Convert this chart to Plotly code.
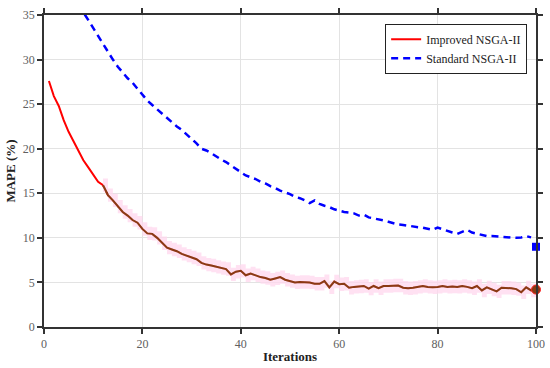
import plotly.graph_objects as go

iterations = list(range(1, 101))

improved = [27.6, 25.9, 24.8, 23.2, 21.9, 20.8, 19.8, 18.7, 17.9, 17.1,
            16.3, 15.9, 14.8, 14.2, 13.5, 12.9, 12.5, 12.0, 11.7, 11.0,
            10.5, 10.45, 10.0, 9.4, 8.9, 8.7, 8.5, 8.2, 8.0, 7.8,
            7.6, 7.2, 7.0, 6.9, 6.75, 6.6, 6.5, 5.9, 6.2, 6.3,
            5.8, 6.0, 5.8, 5.6, 5.5, 5.3, 5.45, 5.6, 5.3, 5.15,
            5.0, 5.05, 5.05, 5.0, 4.85, 4.85, 5.15, 4.45, 5.1, 4.8,
            4.85, 4.4, 4.5, 4.55, 4.6, 4.3, 4.6, 4.35, 4.6, 4.6,
            4.65, 4.65, 4.4, 4.35, 4.4, 4.5, 4.6, 4.5, 4.45, 4.5,
            4.6, 4.5, 4.55, 4.5, 4.6, 4.5, 4.35, 4.6, 4.1, 4.45,
            4.2, 4.0, 4.4, 4.4, 4.35, 4.25, 3.9, 4.45, 4.1, 4.2]

standard_iter = list(range(7, 100))
standard = [36.2, 35.3, 34.5, 33.5, 32.6, 31.7, 30.8, 30.0, 29.2, 28.5,
            27.9, 27.4, 26.7, 26.0, 25.4, 24.9, 24.4, 24.0, 23.5, 23.0,
            22.5, 22.1, 21.6, 21.2, 20.6, 20.0, 19.8, 19.5, 19.1, 18.8,
            18.5, 18.1, 17.7, 17.4, 17.0, 16.8, 16.6, 16.3, 16.1, 15.8,
            15.6, 15.3, 15.1, 14.9, 14.6, 14.45, 14.2, 13.9, 14.2, 13.8,
            13.6, 13.45, 13.2, 13.05, 12.9, 12.85, 12.75, 12.5, 12.6, 12.3,
            12.2, 12.05, 11.95, 11.8, 11.65, 11.5, 11.45, 11.35, 11.25, 11.2,
            11.15, 11.0, 10.9, 11.15, 10.95, 10.75, 10.6, 10.45, 10.7, 10.9,
            10.6, 10.45, 10.3, 10.2, 10.2, 10.15, 10.15, 10.1, 10.05, 10.0,
            10.05, 10.2, 10.05]

final_iter = [100]
final_standard = [9.0]
final_improved = [4.2]

band_start = 11          # index where the shaded/brown segment starts
band_half = 0.75

FONT = "Liberation Serif, Times New Roman, serif"

bx = iterations[band_start:]
by = improved[band_start:]
upper = [v + band_half for v in by]
lower = [v - band_half for v in by]

fig = go.Figure()

fig.add_trace(go.Scatter(x=iterations, y=improved, mode="lines", name="Improved NSGA-II",
                         line=dict(color="#ff0000", width=2)))
fig.add_trace(go.Scatter(x=standard_iter, y=standard, mode="lines", name="Standard NSGA-II",
                         line=dict(color="#0000ff", width=2.5, dash="7px,5px")))

# shaded band
fig.add_trace(go.Scatter(x=bx, y=upper, mode="lines", line=dict(width=0, shape="hv"),
                         showlegend=False, hoverinfo="skip"))
fig.add_trace(go.Scatter(x=bx, y=lower, mode="lines", line=dict(width=0, shape="hv"),
                         fill="tonexty", fillcolor="rgba(255,215,238,0.75)",
                         showlegend=False, hoverinfo="skip"))
fig.add_trace(go.Scatter(x=bx, y=by, mode="lines", showlegend=False,
                         line=dict(color="#8a3a14", width=2)))

fig.add_trace(go.Scatter(x=final_iter, y=final_standard, mode="markers", showlegend=False,
                         marker=dict(symbol="square", size=8, color="#0000ff"), cliponaxis=False))
fig.add_trace(go.Scatter(x=final_iter, y=final_improved, mode="markers", showlegend=False,
                         marker=dict(symbol="circle", size=9, color="#8a3a14",
                                     line=dict(color="#ff2020", width=1)), cliponaxis=False))

axis_common = dict(showline=True, linecolor="#333333", linewidth=1.5, mirror="ticks",
                   ticks="outside", ticklen=5, tickcolor="#333333", tickwidth=1.5,
                   showgrid=True, gridcolor="#e3e3e3", gridwidth=1, zeroline=False,
                   automargin=False,
                   tickfont=dict(family=FONT, size=12, color="#606060"))

fig.update_layout(
    width=550, height=368,
    margin=dict(l=44, r=14, t=15, b=41),
    plot_bgcolor="white", paper_bgcolor="white",
    font=dict(family=FONT, color="#222222"),
    xaxis=dict(range=[0, 100], tickvals=[0, 20, 40, 60, 80, 100],
               title=dict(text="<b>Iterations</b>", font=dict(family=FONT, size=13, color="#222222"),
                          standoff=2),
               **axis_common),
    yaxis=dict(range=[0, 35], tickvals=[0, 5, 10, 15, 20, 25, 30, 35],
               title=dict(text="<b>MAPE (%)</b>", font=dict(family=FONT, size=13, color="#222222"),
                          standoff=4),
               **axis_common),
    legend=dict(x=0.982, y=0.972, xanchor="right", yanchor="top",
                bgcolor="white", bordercolor="#222222", borderwidth=1,
                font=dict(family=FONT, size=12, color="#222222"),
                itemwidth=30, tracegroupgap=0, traceorder="normal",
                ),
    showlegend=True,
)

fig.write_html("out.html", config={"displayModeBar": False},
               post_script="document.body.style.margin='0';document.body.style.overflow='hidden';")
